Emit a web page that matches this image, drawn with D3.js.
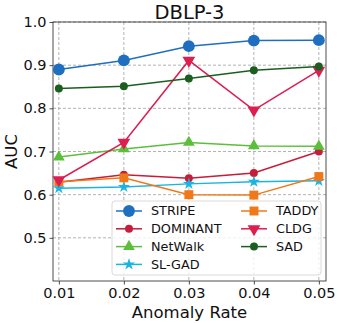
<!DOCTYPE html>
<html>
<head>
<meta charset="utf-8">
<script src="https://cdn.jsdelivr.net/npm/d3@7"></script>
<style>
  body { margin: 0; background: #fff; }
  svg text { font-family: "DejaVu Sans", sans-serif; fill: #111; }
</style>
</head>
<body>
<svg id="chart" width="339" height="323"></svg>
<script>
var rates = [0.01, 0.02, 0.03, 0.04, 0.05];
var yTicks = [0.5, 0.6, 0.7, 0.8, 0.9, 1.0];

var stripe   = [0.890, 0.911, 0.944, 0.957, 0.958];
var dominant = [0.629, 0.646, 0.638, 0.650, 0.700];
var netwalk  = [0.687, 0.706, 0.721, 0.713, 0.712];
var slgad    = [0.615, 0.618, 0.625, 0.630, 0.632];
var taddy    = [0.630, 0.639, 0.600, 0.599, 0.642];
var cldg     = [0.634, 0.721, 0.911, 0.796, 0.888];
var sad      = [0.846, 0.851, 0.869, 0.888, 0.897];

var series = [
  { name: "STRIPE",   values: stripe,   color: "#1f6fc0", marker: "circle",   size: 110 },
  { name: "DOMINANT", values: dominant, color: "#c41e3a", marker: "circle",   size: 50 },
  { name: "NetWalk",  values: netwalk,  color: "#5cbf3c", marker: "triangle", size: 60 },
  { name: "SL-GAD",   values: slgad,    color: "#1ab4e0", marker: "star",     size: 45 },
  { name: "TADDY",    values: taddy,    color: "#f07818", marker: "square",   size: 80 },
  { name: "CLDG",     values: cldg,     color: "#dc1e50", marker: "triangleDown", size: 70 },
  { name: "SAD",      values: sad,      color: "#1b5e20", marker: "circle",   size: 50 }
];

var svg = d3.select("#chart");
var margin = { top: 22, right: 13, bottom: 42, left: 53 };
var width = 339, height = 323;

var x = d3.scaleLinear().domain([0.0091, 0.0511]).range([margin.left, width - margin.right]);
var y = d3.scaleLinear().domain([0.4, 1.0]).range([height - margin.bottom, margin.top]);

function symbolFor(s) {
  var type = d3.symbolCircle;
  if (s.marker === "triangle" || s.marker === "triangleDown") type = d3.symbolTriangle;
  if (s.marker === "square") type = d3.symbolSquare;
  if (s.marker === "star") type = d3.symbolStar;
  return d3.symbol().type(type).size(s.size)();
}

// grid
var grid = svg.append("g");
rates.forEach(function(r) {
  grid.append("line")
    .attr("x1", x(r)).attr("x2", x(r))
    .attr("y1", y(1.0)).attr("y2", y(0.4))
    .attr("stroke", "#a0a0a0").attr("stroke-width", 0.8)
    .attr("stroke-dasharray", "3,2");
});
yTicks.forEach(function(t) {
  grid.append("line")
    .attr("x1", x.range()[0]).attr("x2", x.range()[1])
    .attr("y1", y(t)).attr("y2", y(t))
    .attr("stroke", "#a0a0a0").attr("stroke-width", 0.8)
    .attr("stroke-dasharray", "3,2");
});

// axes
var xAxis = svg.append("g")
  .attr("transform", "translate(0," + (height - margin.bottom) + ")")
  .call(d3.axisBottom(x).tickValues(rates).tickFormat(d3.format(".2f")).tickSize(3.5).tickPadding(3));
var yAxis = svg.append("g")
  .attr("transform", "translate(" + margin.left + ",0)")
  .call(d3.axisLeft(y).tickValues(yTicks).tickFormat(d3.format(".1f")).tickSize(3.5).tickPadding(3));
[xAxis, yAxis].forEach(function(g) {
  g.select(".domain").remove();
  g.selectAll(".tick line").attr("stroke", "#222").attr("stroke-width", 0.8);
  g.selectAll(".tick text").style("font-size", "14.5px").attr("fill", "#111")
    .style("font-family", "DejaVu Sans, sans-serif");
});

// frame
svg.append("rect")
  .attr("x", margin.left).attr("y", margin.top)
  .attr("width", width - margin.left - margin.right)
  .attr("height", height - margin.top - margin.bottom)
  .attr("fill", "none").attr("stroke", "#222").attr("stroke-width", 0.8);

// lines and markers
var line = d3.line()
  .x(function(d, i) { return x(rates[i]); })
  .y(function(d) { return y(d); });

series.forEach(function(s) {
  svg.append("path")
    .datum(s.values)
    .attr("fill", "none")
    .attr("stroke", s.color)
    .attr("stroke-width", 1.5)
    .attr("d", line);
  svg.append("g").selectAll("path")
    .data(s.values)
    .enter()
    .append("path")
    .attr("d", symbolFor(s))
    .attr("transform", function(d, i) {
      return "translate(" + x(rates[i]) + "," + y(d) + ")" + (s.marker === "triangleDown" ? " rotate(180)" : "");
    })
    .attr("fill", s.color);
});

// legend
var legend = svg.append("g");
legend.append("rect")
  .attr("x", 112).attr("y", 201)
  .attr("width", 209).attr("height", 74)
  .attr("rx", 3)
  .attr("fill", "#fff").attr("fill-opacity", 0.8)
  .attr("stroke", "#d0d0d0").attr("stroke-width", 0.8);

series.forEach(function(s, i) {
  var col = i < 4 ? 0 : 1;
  var row = i < 4 ? i : i - 4;
  var lx = col === 0 ? 116 : 241;
  var ly = 211 + row * 17.8;
  legend.append("line")
    .attr("x1", lx).attr("x2", lx + 26)
    .attr("y1", ly).attr("y2", ly)
    .attr("stroke", s.color).attr("stroke-width", 1.5);
  legend.append("path")
    .attr("d", symbolFor(s))
    .attr("transform", "translate(" + (lx + 13) + "," + ly + ")" + (s.marker === "triangleDown" ? " rotate(180)" : ""))
    .attr("fill", s.color);
  legend.append("text")
    .attr("x", lx + 35).attr("y", ly)
    .attr("dy", "0.35em")
    .style("font-size", "12.8px")
    .text(s.name);
});

// title and labels
svg.append("text")
  .attr("x", (margin.left + width - margin.right) / 2)
  .attr("y", 19)
  .attr("text-anchor", "middle")
  .style("font-size", "19.5px")
  .text("DBLP-3");

svg.append("text")
  .attr("x", (margin.left + width - margin.right) / 2)
  .attr("y", 318)
  .attr("text-anchor", "middle")
  .style("font-size", "16.5px")
  .text("Anomaly Rate");

svg.append("text")
  .attr("transform", "rotate(-90)")
  .attr("x", -(margin.top + height - margin.bottom) / 2)
  .attr("y", 17)
  .attr("text-anchor", "middle")
  .style("font-size", "16.5px")
  .text("AUC");
</script>
</body>
</html>
